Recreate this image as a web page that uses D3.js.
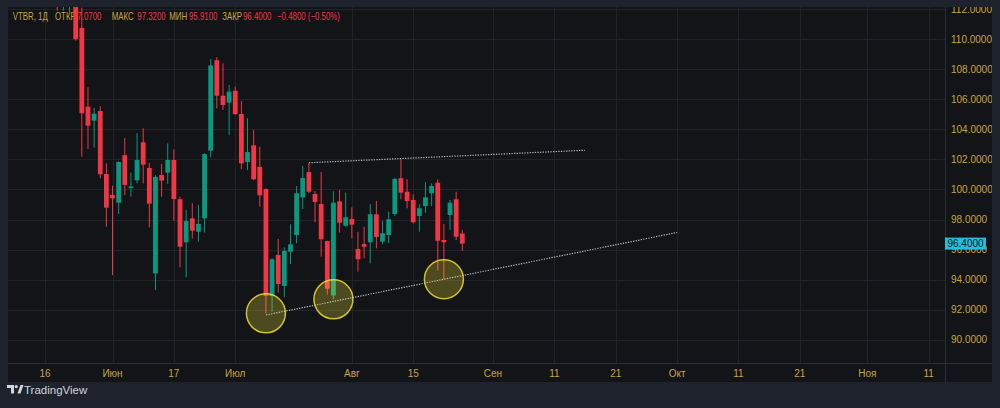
<!DOCTYPE html>
<html><head><meta charset="utf-8">
<script src="https://cdn.jsdelivr.net/npm/d3@7"></script>
<style>
html,body{margin:0;padding:0;background:#1e222d;overflow:hidden;}
svg{display:block;}
</style></head><body>
<svg id="c" width="1000" height="408"></svg>
<script>
// ---- data ----
const barIndex = d3.range(-3, 64);
const opens  = [114.6,112.4,112.3, 113.2,110.75,105.51,104.58,105.22,101.03,99.63,99.12,102.28,100.10,100.61,103.14,101.43,94.42,100.96,101.12,101.96,99.35,96.49,98.08,97.19,98.08,102.58,108.60,106.24,105.78,106.57,105.02,101.83,102.94,101.50,100.03,92.91,95.64,93.58,95.86,96.97,99.47,101.16,99.70,99.04,96.57,92.95,99.21,97.59,98.04,96.04,96.37,96.49,98.35,96.53,96.97,98.37,100.75,99.85,99.30,98.24,98.90,99.75,100.45,96.64,98.30,99.35,97.07];
const highs  = [115.4,114.8,113.9, 113.6,112.1,106.8,105.44,105.54,101.74,100.25,101.88,103.43,101.12,103.74,104.07,101.78,100.96,101.70,103.07,102.67,99.52,98.64,99.08,98.97,102.41,108.68,108.80,108.40,106.95,106.84,105.89,104.74,103.96,102.85,100.08,95.42,96.71,96.15,97.68,100.23,101.56,101.78,99.90,101.16,96.60,99.88,99.97,99.79,98.82,97.19,97.52,99.02,99.23,97.92,98.52,100.78,102.01,100.68,99.68,99.02,100.48,100.41,100.68,97.70,99.30,99.85,97.32];
const lows   = [111.9,111.9,111.8, 109.9,102.18,102.69,102.78,100.75,97.52,94.31,98.37,99.63,99.52,100.41,100.41,97.49,93.31,99.52,100.37,97.92,94.82,94.16,96.73,96.53,97.13,102.14,105.40,105.29,103.63,104.96,101.34,101.30,100.63,98.86,91.76,91.87,93.13,92.83,95.03,96.42,98.70,99.75,97.82,95.53,93.01,92.69,97.13,97.52,96.75,94.53,95.42,95.09,96.09,96.35,96.42,98.22,99.35,98.75,97.75,97.19,98.46,98.90,94.60,94.03,97.31,96.64,95.91];
const closes = [112.9,114.2,113.4, 110.0,105.07,104.24,105.04,101.01,98.79,99.41,101.83,100.30,100.20,101.96,101.65,99.06,100.83,100.59,101.96,99.37,96.19,97.90,97.26,97.72,102.36,108.26,106.24,105.62,106.51,105.02,101.74,102.49,100.68,99.61,92.93,95.36,93.71,95.91,96.35,99.75,100.77,99.85,99.17,96.69,93.40,99.12,97.79,98.15,97.66,95.36,96.19,98.35,96.84,97.09,98.02,100.70,99.79,99.23,97.82,98.75,99.48,100.23,96.59,96.49,99.12,96.86,96.40];

const priceTicks = d3.range(90, 113, 2);
const timeTickLabels = ["16","Июн","17","Июл","Авг","15","Сен","11","21","Окт","11","21","Ноя","11"];
const timeTickIndex  = [-5, 6, 16, 26, 45, 55, 68, 78, 88, 98, 108, 118, 129, 139];

const upperLine = [[38, 101.78], [83, 102.61]];
const lowerLine = [[31, 91.65], [98, 97.14]];
const circleIdx = [31, 42, 60];

const legendLabels = ["VTBR, 1Д", "ОТКР", "МАКС", "МИН", "ЗАКР"];
const legendValues = ["", "97.0700", "97.3200", "95.9100", "96.4000"];
const legendChange = "−0.4800 (−0.50%)";
const lastPrice = 96.40;

// ---- layout ----
const paneL = 8, paneT = 7, paneR = 945, paneB = 363, outerR = 992, outerB = 382;
const gold = "#c9a445", red = "#f23645", green = "#089981";
const FONT = "'Liberation Sans',Arial,sans-serif";
const NFONT = "'Liberation Sans Narrow','Liberation Sans',Arial,sans-serif";

const x = d3.scaleLinear().domain([0, 63]).range([75.7, 462.3]);
const y = d3.scaleLinear().domain([90, 112]).range([339.8, 9.1]);

const svg = d3.select("#c");
svg.append("rect").attr("width",1000).attr("height",408).attr("fill","#1e222d");
svg.append("rect").attr("x",paneL).attr("y",paneT).attr("width",outerR-paneL).attr("height",outerB-paneT).attr("fill","#121417");

const defs = svg.append("defs");
defs.append("clipPath").attr("id","pc").append("rect")
  .attr("x",paneL).attr("y",paneT).attr("width",paneR-paneL).attr("height",paneB-paneT);
defs.append("clipPath").attr("id","ac").append("rect")
  .attr("x",paneR).attr("y",paneT).attr("width",outerR-paneR).attr("height",paneB-paneT);

const g = svg.append("g").attr("clip-path","url(#pc)");
// grid
g.selectAll(".hg").data(priceTicks).join("line")
  .attr("x1",paneL).attr("x2",paneR)
  .attr("y1",d=>Math.round(y(d))+0.5).attr("y2",d=>Math.round(y(d))+0.5)
  .attr("stroke","#202328").attr("stroke-width",1);
g.selectAll(".vg").data(timeTickIndex).join("line")
  .attr("y1",paneT).attr("y2",paneB)
  .attr("x1",d=>Math.round(x(d))+0.5).attr("x2",d=>Math.round(x(d))+0.5)
  .attr("stroke","#202328").attr("stroke-width",1);

// legend (beneath candles): one text, compressed horizontally
const SX = 0.75;
const legX = [12.7, 55, 111.7, 169.3, 222.3];
const valX = [0, 73, 137.3, 189, 243];
const lt = svg.append("g").attr("transform",`scale(${SX},1)`)
  .append("text").attr("y",20.5).attr("font-family",FONT).attr("font-size",10.5);
legendLabels.forEach((l,i)=>{
  lt.append("tspan").attr("x",legX[i]/SX).attr("fill",gold).text(l);
  if (legendValues[i]) lt.append("tspan").attr("x",valX[i]/SX).attr("fill",red).text(legendValues[i]);
});
lt.append("tspan").attr("x",277/SX).attr("fill",red).text(legendChange);

// candles
const bars = barIndex.map((idx,i)=>({idx, o:opens[i], h:highs[i], l:lows[i], c:closes[i]}));
const cg = svg.append("g").attr("clip-path","url(#pc)");
cg.selectAll(".wick").data(bars).join("line")
  .attr("x1",d=>x(d.idx)).attr("x2",d=>x(d.idx))
  .attr("y1",d=>y(d.h)).attr("y2",d=>y(d.l))
  .attr("stroke",d=>d.c>=d.o?green:red).attr("stroke-width",1);
const bw = 4.8;
cg.selectAll(".body").data(bars).join("rect")
  .attr("x",d=>x(d.idx)-bw/2).attr("width",bw)
  .attr("y",d=>y(Math.max(d.o,d.c)))
  .attr("height",d=>Math.max(1.5, Math.abs(y(d.o)-y(d.c))))
  .attr("fill",d=>d.c>=d.o?green:red);

// trend lines
[upperLine, lowerLine].forEach(L=>{
  cg.append("line")
    .attr("x1",x(L[0][0])).attr("y1",y(L[0][1]))
    .attr("x2",x(L[1][0])).attr("y2",y(L[1][1]))
    .attr("stroke","#b8b8b8").attr("stroke-width",1.2).attr("stroke-dasharray","1.3,1.3");
});
// circles
cg.selectAll(".circ").data(circleIdx).join("circle")
  .attr("cx",d=>x(d)).attr("cy",d=>y(lows[barIndex.indexOf(d)]))
  .attr("r",19.5)
  .attr("fill","rgba(255,235,59,0.25)")
  .attr("stroke","rgba(255,235,59,0.78)").attr("stroke-width",1.5);

// separators
svg.append("line").attr("x1",paneR+0.5).attr("x2",paneR+0.5).attr("y1",paneT).attr("y2",outerB).attr("stroke","#2a2e39");
svg.append("line").attr("x1",paneL).attr("x2",outerR).attr("y1",paneB+0.5).attr("y2",paneB+0.5).attr("stroke","#2a2e39");

// price axis labels
const ax = svg.append("g").attr("font-family",NFONT).attr("font-size",10).attr("fill",gold);
ax.append("g").attr("clip-path","url(#ac)").selectAll(".pl").data(priceTicks).join("text")
  .attr("x",951).attr("y",d=>y(d)+3.6).text(d=>d.toFixed(4));
// time axis labels
ax.selectAll(".tl").data(timeTickIndex).join("text")
  .attr("x",d=>x(d)).attr("y",376.5).attr("text-anchor","middle")
  .text((d,i)=>timeTickLabels[i]);

// last price box
const py = y(lastPrice);
svg.append("rect").attr("x",945).attr("y",py-6).attr("width",41).attr("height",12).attr("fill","#22bfdc");
svg.append("text").attr("x",965.5).attr("y",py+3.6).attr("text-anchor","middle")
  .attr("font-family",NFONT).attr("font-size",10).attr("fill","#131722").text(lastPrice.toFixed(4));

// logo
const logo = svg.append("g").attr("fill","#d1d4dc");
logo.append("path").attr("d","M7 385 h7 v8.5 h-3 v-5.5 h-4 z");
logo.append("circle").attr("cx",16.2).attr("cy",386.6).attr("r",1.6);
logo.append("path").attr("d","M17.5 393.5 l3 -8.5 h3 l-3 8.5 z");
logo.append("text").attr("x",24).attr("y",393.5).attr("font-family",NFONT).attr("font-size",11.5).text("TradingView");
</script>
</body></html>
